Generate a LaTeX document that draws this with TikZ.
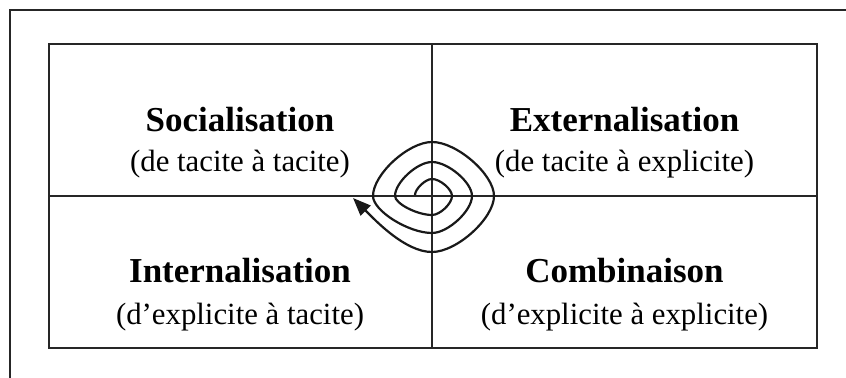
\documentclass[tikz,border=0pt]{standalone}
\usepackage{fontspec}
\setmainfont{Liberation Serif}
\usetikzlibrary{arrows.meta}
\begin{document}
\begin{tikzpicture}[x=0.5pt,y=-0.5pt,
  frame/.style={line width=1.1pt,draw=black!85},
  spiral/.style={line width=1.1pt,draw=black!90},
  title/.style={anchor=base,inner sep=0pt,font=\fontsize{17.5}{20}\selectfont\bfseries},
  sub/.style={anchor=base,inner sep=0pt,font=\fontsize{15.4}{18}\selectfont}]
\useasboundingbox (0,0) rectangle (846,378);
% outer frame (top and left only)
\draw[frame] (10,378) -- (10,10) -- (846,10);
% inner grid
\draw[frame] (49,44) rectangle (817,348);
\draw[frame] (432,44) -- (432,348);
\draw[frame] (49,196) -- (817,196);
% texts
\node[title] (soc) at (240,131.5) {Socialisation};
\node[sub] (socs) at (240,172) {(de tacite à tacite)};
\node[title] (ext) at (624.5,131.5) {Externalisation};
\node[sub] (exts) at (624.5,172) {(de tacite à explicite)};
\node[title] (int) at (240,283) {Internalisation};
\node[sub] (ints) at (240,325) {(d’explicite à tacite)};
\node[title] (com) at (624.5,283) {Combinaison};
\node[sub] (coms) at (624.5,325) {(d’explicite à explicite)};
% spiral
\coordinate (s0) at (415,195);
\coordinate (tip) at (353,198);
\draw[spiral,-{Triangle[length=9pt,width=7pt]}] (s0)
  .. controls (415,189.2) and (425.2,179) .. (432,179)
  .. controls (440,179) and (452,189.2) .. (452,196)
  .. controls (452,203.6) and (440,215) .. (432,215)
  .. controls (417.2,215) and (395,203.6) .. (395,196)
  .. controls (395,182.4) and (417.2,162) .. (432,162)
  .. controls (448,162) and (472,182.4) .. (472,196)
  .. controls (472,210.8) and (448,233) .. (432,233)
  .. controls (408.4,233) and (373,210.8) .. (373,196)
  .. controls (373,174.4) and (408.4,142) .. (432,142)
  .. controls (456.8,142) and (494,174.4) .. (494,196)
  .. controls (494,218.4) and (456.8,252) .. (432,252)
  .. controls (405,252) and (375,220) .. (tip);
\end{tikzpicture}
\end{document}
